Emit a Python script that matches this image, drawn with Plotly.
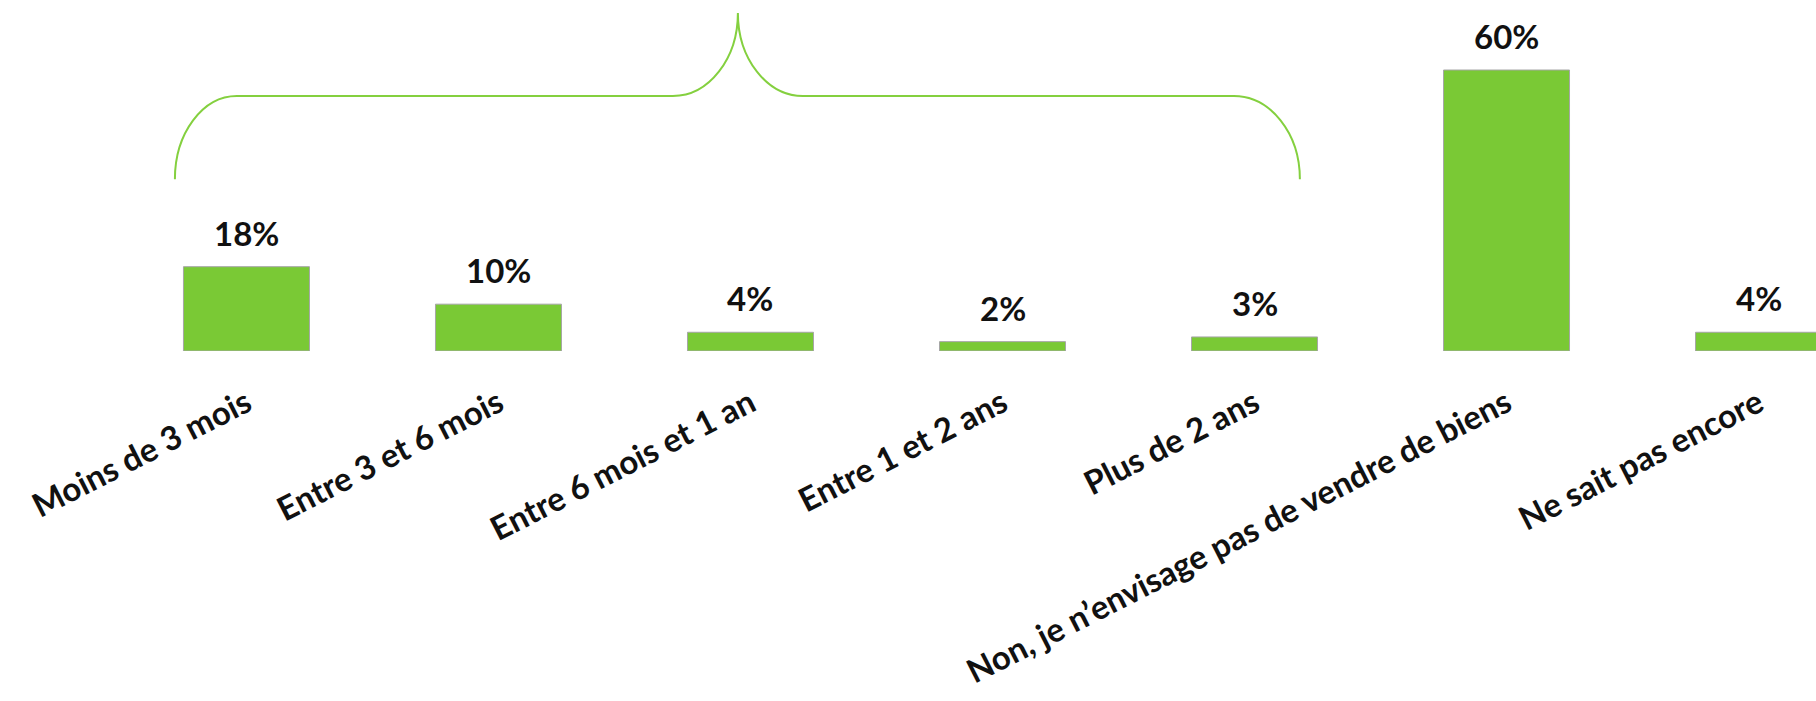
import plotly.graph_objects as go

# Survey answers: planned timing for selling property
categories = [
    "Moins de 3 mois",
    "Entre 3 et 6 mois",
    "Entre 6 mois et 1 an",
    "Entre 1 et 2 ans",
    "Plus de 2 ans",
    "Non, je n’envisage pas de vendre de biens",
    "Ne sait pas encore",
]
shares = [18, 10, 4, 2, 3, 60, 4]

GREEN = "#7AC935"
FONT = "Lato"

x_pos = list(range(len(categories)))

fig = go.Figure(
    go.Bar(
        x=x_pos,
        y=shares,
        width=0.5,
        marker=dict(color=GREEN, line=dict(color="#A6A6A6", width=1)),
        hoverinfo="skip",
    )
)

# Percentage labels above each bar
for xi, v in zip(x_pos, shares):
    fig.add_annotation(
        x=xi, y=v, text=f"{v}%", showarrow=False,
        yanchor="bottom", yshift=12,
        font=dict(family=FONT, size=33, color="#111111", weight="bold"),
    )

# Curly brace grouping the "yes, within some delay" answers
k = 0.552
xl, xlc, xml, xt, xmr, xrc, xr = -0.284, -0.038, 1.692, 1.950, 2.208, 3.918, 4.180
yb, yh, yt = 36.7, 54.45, 72.2
path = (
    f"M {xl},{yb} "
    f"C {xl},{yb + k*(yh-yb)} {xlc - k*(xlc-xl)},{yh} {xlc},{yh} "
    f"L {xml},{yh} "
    f"C {xml + k*(xt-xml)},{yh} {xt},{yt - k*(yt-yh)} {xt},{yt} "
    f"C {xt},{yt - k*(yt-yh)} {xmr - k*(xmr-xt)},{yh} {xmr},{yh} "
    f"L {xrc},{yh} "
    f"C {xrc + k*(xr-xrc)},{yh} {xr},{yb + k*(yh-yb)} {xr},{yb}"
)
fig.add_shape(type="path", path=path, xref="x", yref="y",
              line=dict(color="#84D03F", width=2))

fig.update_layout(
    width=1816, height=701,
    margin=dict(l=0, r=0, t=0, b=350),
    plot_bgcolor="white", paper_bgcolor="white",
    showlegend=False,
    bargap=0.5,
)
fig.update_xaxes(
    range=[-0.978, 6.228],
    tickvals=x_pos, ticktext=categories,
    tickangle=-27,
    ticklabelstandoff=26,
    automargin=False,
    tickfont=dict(family=FONT, size=33, color="#111111", weight="bold"),
    showgrid=False, zeroline=False, showline=False, ticks="",
)
fig.update_yaxes(range=[0, 74.95], visible=False)

fig.write_html("out.html")
